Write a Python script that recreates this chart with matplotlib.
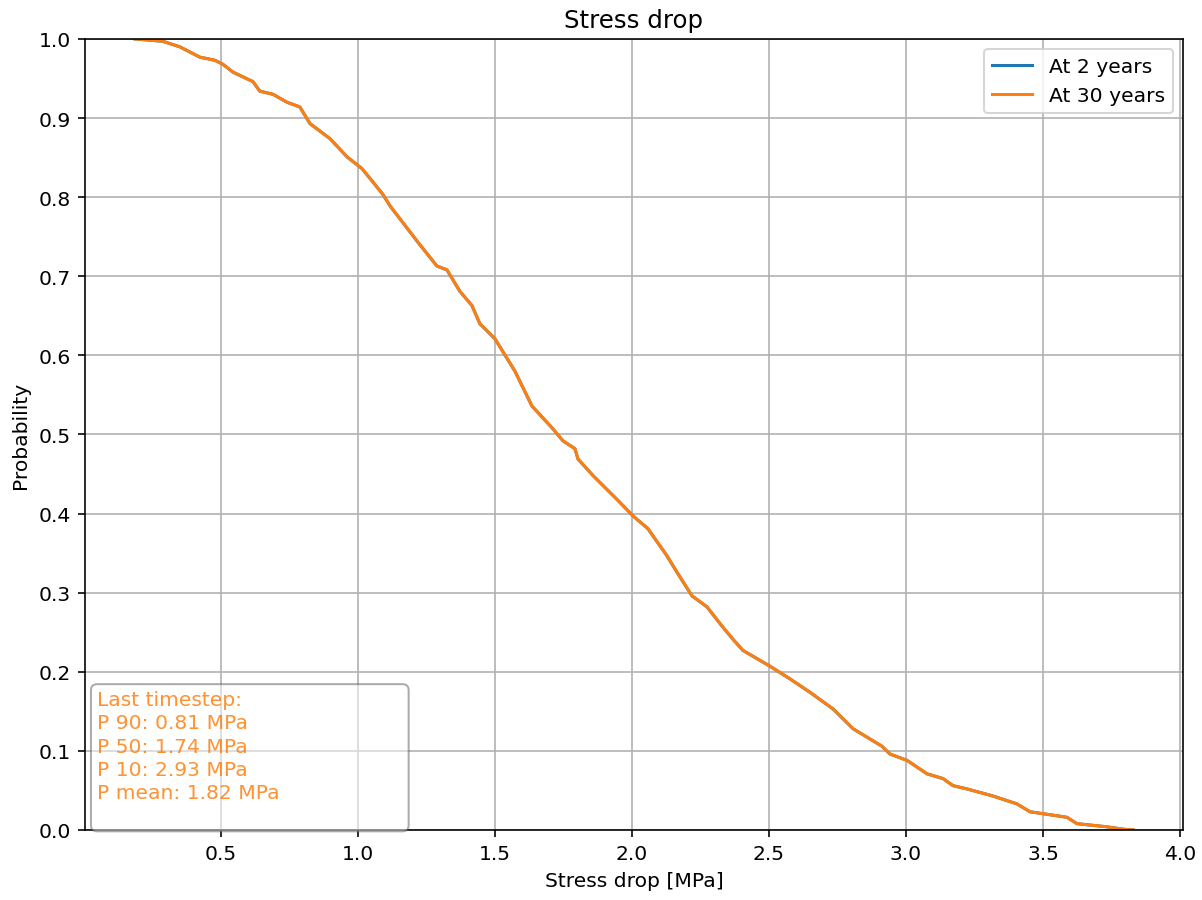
import matplotlib
matplotlib.use("Agg")
import matplotlib.pyplot as plt

# Exceedance curve of stress drop
stress_drop = [0.186, 0.288, 0.35, 0.423, 0.478, 0.507, 0.544, 0.617, 0.642, 0.69,
               0.741, 0.788, 0.825, 0.898, 0.96, 1.015, 1.055, 1.09, 1.117, 1.219,
               1.288, 1.325, 1.372, 1.416, 1.445, 1.5, 1.573, 1.635, 1.712, 1.748,
               1.792, 1.803, 1.858, 1.945, 2.004, 2.058, 2.127, 2.164, 2.219, 2.274,
               2.328, 2.369, 2.405, 2.504, 2.577, 2.65, 2.734, 2.807, 2.912, 2.942,
               3.004, 3.077, 3.135, 3.172, 3.222, 3.317, 3.405, 3.453, 3.551, 3.588,
               3.624, 3.734, 3.792, 3.83]
probability = [1.0, 0.997, 0.99, 0.977, 0.973, 0.968, 0.958, 0.946, 0.934, 0.93,
               0.92, 0.914, 0.893, 0.874, 0.851, 0.836, 0.819, 0.804, 0.789, 0.743,
               0.713, 0.708, 0.681, 0.663, 0.64, 0.621, 0.58, 0.536, 0.507, 0.492,
               0.482, 0.469, 0.448, 0.418, 0.397, 0.381, 0.347, 0.326, 0.296, 0.282,
               0.258, 0.241, 0.227, 0.207, 0.191, 0.174, 0.153, 0.128, 0.106, 0.096,
               0.088, 0.071, 0.065, 0.056, 0.052, 0.043, 0.033, 0.023, 0.018, 0.016,
               0.008, 0.004, 0.001, 0.0]

series_labels = ["At 2 years", "At 30 years"]
stats_labels = ["P 90", "P 50", "P 10", "P mean"]
stats_values = [0.81, 1.74, 2.93, 1.82]

DPI = 146
fig = plt.figure(figsize=(1202 / DPI, 901 / DPI), dpi=DPI)
ax = fig.add_axes([0.0707, 0.0777, 0.9135, 0.878])

# both timesteps give the same curve, the orange one sits on top
ax.plot(stress_drop, probability, color="C0", label=series_labels[0])
ax.plot(stress_drop, probability, color="C1", label=series_labels[1])

ax.set_ylim(0, 1)
ax.set_xlim(0.004, 4.011)
ax.set_yticks([i / 10 for i in range(11)])
ax.set_xticks([0.5, 1.0, 1.5, 2.0, 2.5, 3.0, 3.5, 4.0])
ax.grid(True)
ax.set_title("Stress drop")
ax.set_xlabel("Stress drop [MPa]")
ax.set_ylabel("Probability")
ax.legend(loc="upper right")

lines = ["Last timestep:"]
for lab, val in zip(stats_labels, stats_values):
    lines.append(f"{lab}: {val:.2f} MPa")
txt = "\n".join(lines) + "\n" + " " * 47
ax.text(0.011, 0.006, txt, transform=ax.transAxes, ha="left", va="bottom",
        color="C1", alpha=0.85, linespacing=1.28,
        bbox=dict(boxstyle="round", facecolor="white", edgecolor="0.35", alpha=0.5))

fig.savefig("out.png", dpi=DPI)
